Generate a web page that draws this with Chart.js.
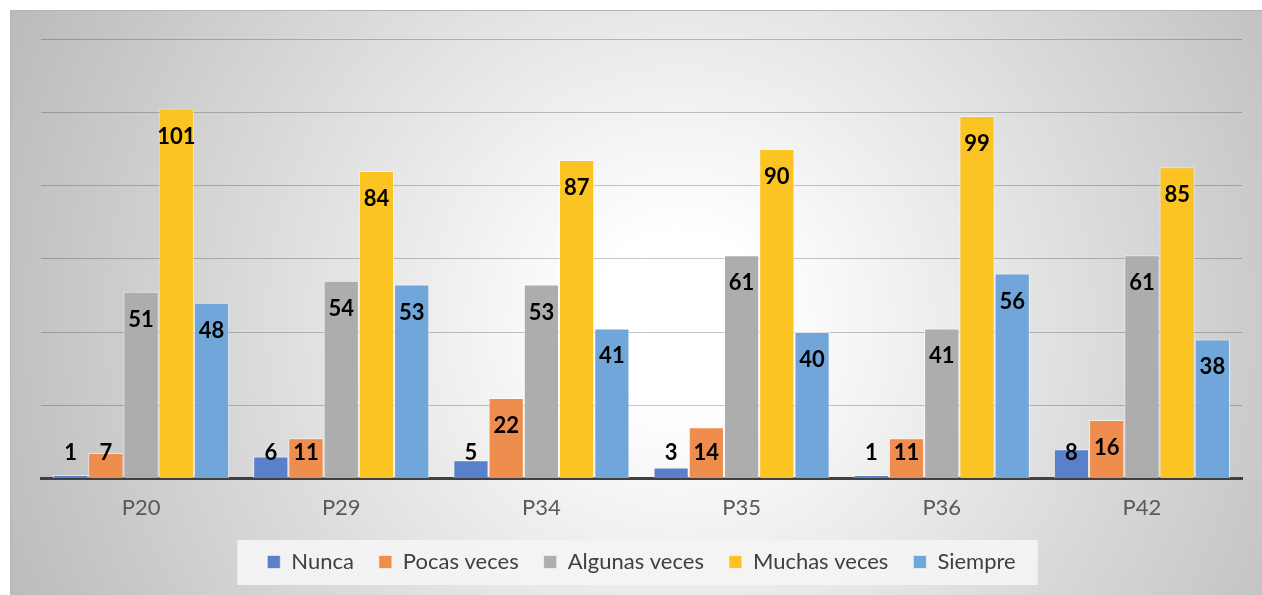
<!DOCTYPE html>
<html>
<head>
<meta charset="utf-8">
<script src="https://cdn.jsdelivr.net/npm/chart.js@4.4.1/dist/chart.umd.min.js"></script>
<style>
  html, body { margin: 0; padding: 0; background: #fff; }
  #wrap { width: 1262px; height: 595px; }
</style>
</head>
<body>
<div id="wrap"><canvas id="mycanvas" width="1262" height="595"></canvas></div>
<script>
var preguntas = ["P20", "P29", "P34", "P35", "P36", "P42"];
var nunca = [1, 6, 5, 3, 1, 8];
var pocasVeces = [7, 11, 22, 14, 11, 16];
var algunasVeces = [51, 54, 53, 61, 41, 61];
var muchasVeces = [101, 84, 87, 90, 99, 85];
var siempre = [48, 53, 41, 40, 56, 38];
var seriesNames = ["Nunca", "Pocas veces", "Algunas veces", "Muchas veces", "Siempre"];
var seriesColors = ["#5b80cb", "#ee8d4d", "#adadad", "#fbc423", "#70a6d9"];

var fontName = "Lato, 'Open Sans', sans-serif";

// background: grey radial shading + light box behind the legend
var bgPlugin = {
  id: "bg",
  beforeDraw: function(chart) {
    var c = chart.ctx;
    c.save();
    c.fillStyle = "#ffffff";
    c.fillRect(0, 0, chart.width, chart.height);
    var g = c.createRadialGradient(680, 320, 0, 680, 320, 720);
    g.addColorStop(0, "#ffffff");
    g.addColorStop(0.12, "#ffffff");
    g.addColorStop(1, "#bcbcbc");
    c.fillStyle = g;
    c.fillRect(10, 10, chart.width - 10, chart.height - 10);
    c.strokeStyle = "#b5b5b5";
    c.lineWidth = 1;
    c.beginPath();
    c.moveTo(10.5, chart.height);
    c.lineTo(10.5, 10.5);
    c.lineTo(chart.width, 10.5);
    c.stroke();

    var boxes = chart.legend.legendHitBoxes;
    if (boxes && boxes.length) {
      var first = boxes[0], last = boxes[boxes.length - 1];
      var cy = first.top + first.height / 2;
      var x0 = first.left - 30, x1 = last.left + last.width + 22;
      c.fillStyle = "rgba(244,244,244,0.92)";
      c.fillRect(x0, cy - 22, x1 - x0, 45);
    }
    c.restore();
  }
};

// value labels: inside the top of the bar, but never lower than near the base
var labelPlugin = {
  id: "valueLabels",
  afterDatasetsDraw: function(chart) {
    var c = chart.ctx;
    c.save();
    c.font = "bold 22px " + fontName;
    c.fillStyle = "#000";
    c.textAlign = "center";
    c.textBaseline = "middle";
    chart.data.datasets.forEach(function(ds, i) {
      var meta = chart.getDatasetMeta(i);
      meta.data.forEach(function(bar, j) {
        var y = Math.min(bar.y + 28, bar.base - 25);
        c.fillText(String(ds.data[j]), bar.x, y);
      });
    });
    c.restore();
  }
};

var allData = [nunca, pocasVeces, algunasVeces, muchasVeces, siempre];
var datasets = [];
for (var i in allData) {
  datasets.push({
    label: seriesNames[i],
    data: allData[i],
    backgroundColor: seriesColors[i],
    borderColor: "rgba(255,255,255,0.55)",
    borderWidth: 1,
    categoryPercentage: 0.88,
    barPercentage: 1
  });
}

var ctx = document.getElementById("mycanvas");
var chart = new Chart(ctx, {
  type: "bar",
  data: { labels: preguntas, datasets: datasets },
  options: {
    responsive: false,
    animation: false,
    layout: { padding: { left: 41, right: 20, top: 39, bottom: 12 } },
    scales: {
      x: {
        grid: { display: false, drawTicks: false },
        border: { display: true, color: "#404040", width: 3 },
        ticks: { color: "#595959", font: { family: fontName, size: 22 }, padding: 16 },
        afterFit: function(scale) { scale.height -= 11; }
      },
      y: {
        min: 0,
        max: 120,
        ticks: { display: false, stepSize: 20 },
        border: { display: false },
        grid: {
          drawTicks: false,
          color: function(context) {
            return context.tick && context.tick.value === 0 ? "rgba(0,0,0,0)" : "rgba(0,0,0,0.22)";
          },
          lineWidth: 1
        }
      }
    },
    plugins: {
      legend: {
        position: "bottom",
        labels: {
          boxWidth: 13,
          boxHeight: 13,
          padding: 25,
          color: "#404040",
          font: { family: fontName, size: 22 }
        }
      },
      tooltip: { enabled: false }
    }
  },
  plugins: [bgPlugin, labelPlugin]
});
</script>
</body>
</html>
